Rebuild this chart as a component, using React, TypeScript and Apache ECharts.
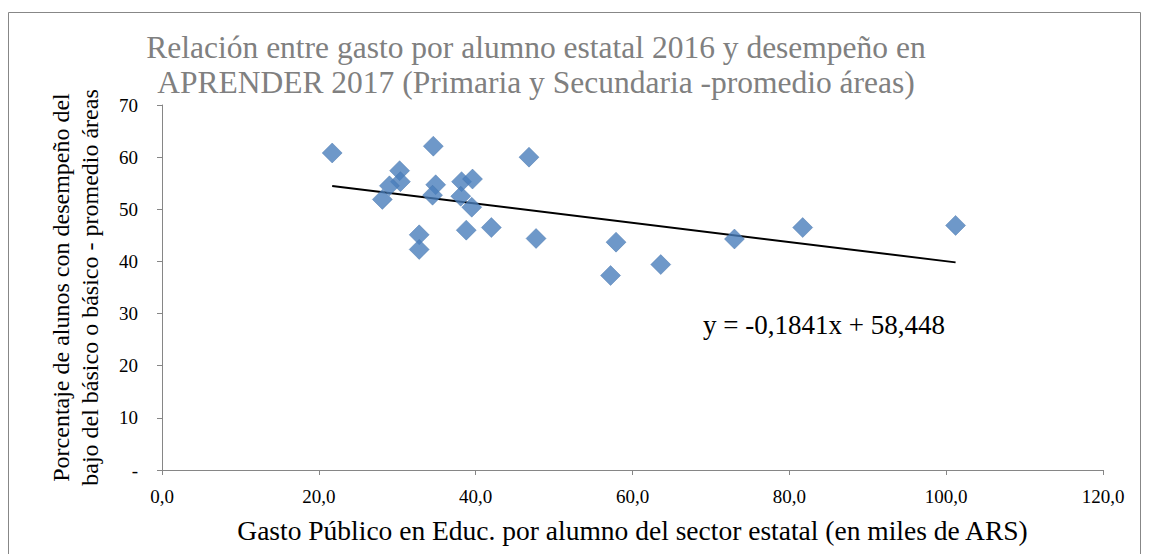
import React, { useEffect, useRef } from "react";
import * as echarts from "echarts";

const gastoPorAlumno = [21.7, 34.6, 46.8, 30.3, 30.4, 29.0, 28.1, 34.9, 34.5, 32.8, 32.8, 38.2, 39.6, 38.1, 39.5, 38.8, 42.0, 47.7, 57.9, 57.2, 63.6, 73.0, 81.7, 101.2];
const desempenoBajo = [60.8, 62.1, 60.0, 57.4, 55.3, 54.5, 51.9, 54.7, 52.7, 45.1, 42.3, 55.3, 55.8, 52.5, 50.4, 46.0, 46.5, 44.4, 43.7, 37.3, 39.4, 44.3, 46.5, 46.9];
const pendiente = -0.1841;
const ordenada = 58.448;
const ecuacion = "y = -0,1841x + 58,448";
const titulo = "Relación entre gasto por alumno estatal 2016 y desempeño en\nAPRENDER 2017 (Primaria y Secundaria -promedio áreas)";
const tituloX = "Gasto Público en Educ. por alumno del sector estatal (en miles de ARS)";
const tituloY = "Porcentaje de alunos con desempeño del\nbajo del básico o básico - promedio áreas";

const FONT = "Liberation Serif";

export default function App() {
  const ref = useRef<HTMLDivElement>(null);
  useEffect(() => {
    if (!ref.current) return;
    const chart = echarts.init(ref.current, null, { renderer: "svg" });
    const puntos = gastoPorAlumno.map((x, i) => [x, desempenoBajo[i]]);
    const minX = Math.min(...gastoPorAlumno);
    const maxX = Math.max(...gastoPorAlumno);
    const tendencia = [
      [minX, pendiente * minX + ordenada],
      [maxX, pendiente * maxX + ordenada],
    ];
    chart.setOption({
      animation: false,
      backgroundColor: "#ffffff",
      textStyle: { fontFamily: FONT },
      title: {
        text: titulo,
        left: 531,
        top: 25,
        textAlign: "center",
        textStyle: { fontFamily: FONT, fontSize: 31.5, fontWeight: "normal", color: "#808080", lineHeight: 35 },
      },
      graphic: [
        {
          type: "rect",
          shape: { x: 8.5, y: 12.5, width: 1132, height: 560 },
          style: { fill: "none", stroke: "#878787", lineWidth: 1 },
          silent: true,
        },
        {
          type: "text",
          left: 703,
          top: 311,
          style: { text: ecuacion, fontFamily: FONT, fontSize: 27, fill: "#000000" },
        },
      ],
      grid: { left: 162, right: 46, top: 105, bottom: 84 },
      xAxis: {
        type: "value",
        min: 0,
        max: 120,
        interval: 20,
        name: tituloX,
        nameLocation: "middle",
        nameGap: 46,
        nameTextStyle: { fontFamily: FONT, fontSize: 27.5, color: "#000000" },
        axisLine: { show: true, lineStyle: { color: "#868686", width: 1 } },
        axisTick: { show: true, inside: false, length: 5, lineStyle: { color: "#868686" } },
        axisLabel: {
          margin: 17,
          fontFamily: FONT,
          fontSize: 19,
          color: "#000000",
          formatter: (v: number) => v.toFixed(1).replace(".", ","),
        },
        splitLine: { show: false },
      },
      yAxis: {
        type: "value",
        min: 0,
        max: 70,
        interval: 10,
        name: tituloY,
        nameLocation: "middle",
        nameRotate: 90,
        nameGap: 58,
        nameTextStyle: { fontFamily: FONT, fontSize: 24, color: "#000000", lineHeight: 29 },
        axisLine: { show: true, lineStyle: { color: "#868686", width: 1 } },
        axisTick: { show: true, inside: false, length: 5, lineStyle: { color: "#868686" } },
        axisLabel: {
          margin: 24,
          fontFamily: FONT,
          fontSize: 19,
          color: "#000000",
          formatter: (v: number) => (v === 0 ? "-" : String(v)),
        },
        splitLine: { show: false },
      },
      series: [
        {
          type: "line",
          data: tendencia,
          showSymbol: false,
          symbol: "none",
          lineStyle: { color: "#000000", width: 2 },
          z: 1,
          silent: true,
        },
        {
          type: "scatter",
          data: puntos,
          symbol: "diamond",
          symbolSize: 20,
          itemStyle: { color: "#4a7ebb", borderColor: "#3f6fa8", borderWidth: 0.5 },
          z: 2,
        },
      ],
    });
    return () => chart.dispose();
  }, []);
  return (
    <div
      ref={ref}
      style={{ position: "fixed", left: 0, top: 0, width: 1149, height: 554 }}
    />
  );
}
